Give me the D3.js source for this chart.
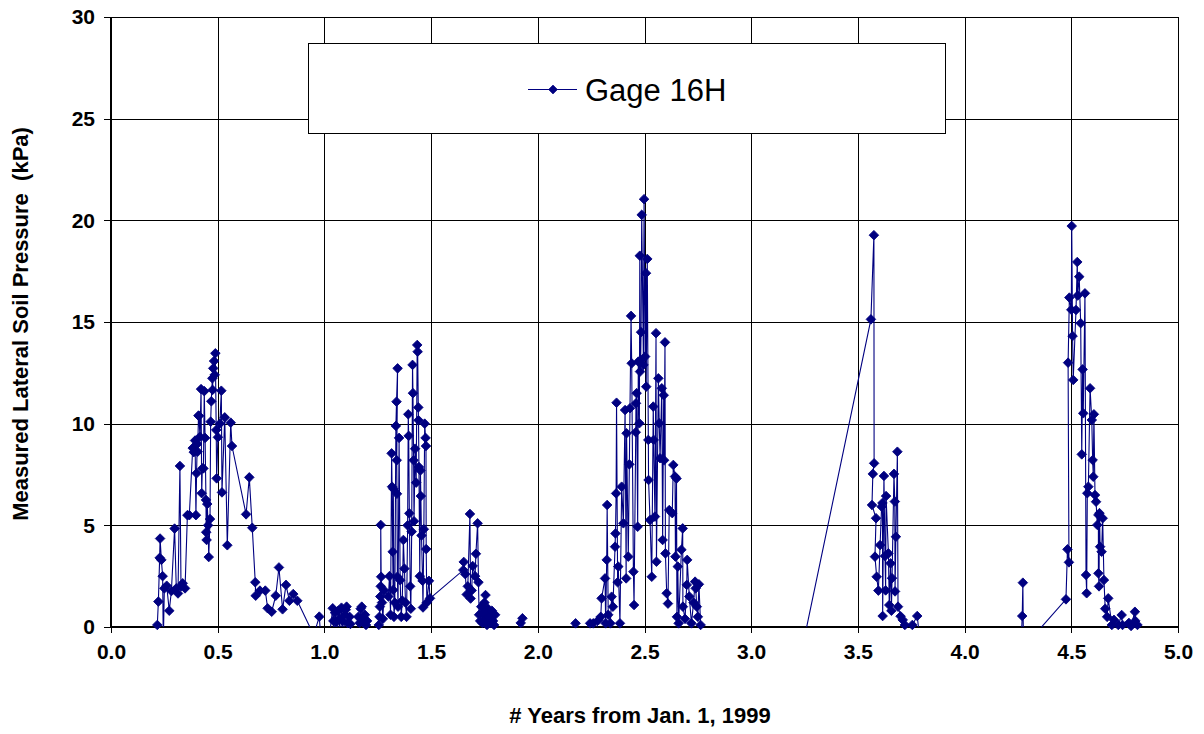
<!DOCTYPE html>
<html>
<head>
<meta charset="utf-8">
<script src="https://cdn.jsdelivr.net/npm/d3@7"></script>
<style>
  html, body { margin: 0; padding: 0; background: #fff; }
  svg { display: block; font-family: Arial, "Liberation Sans", sans-serif; }
</style>
</head>
<body>
<svg id="chart" width="1204" height="734"></svg>
<script>
// ---------- DATA: [years from Jan. 1 1999, measured lateral soil pressure kPa] ----------
const season1999 = [
  [0.217,0.1],[0.222,1.25],[0.228,3.4],[0.23,4.35],[0.236,3.3],[0.242,2.5],[0.245,-0.8],[0.25,1.9],
  [0.261,2.03],[0.273,0.8],[0.283,1.77],[0.298,4.84],[0.306,1.9],[0.314,1.65],[0.323,7.92],[0.328,2.0],
  [0.336,2.15],[0.347,1.9],[0.358,5.5],[0.367,5.5],[0.383,8.8],[0.388,8.6],[0.394,9.17],[0.398,5.5],
  [0.401,7.56],[0.404,9.0],[0.406,8.62],[0.41,10.4],[0.412,10.38],[0.417,9.36],[0.422,11.7],[0.425,6.58],
  [0.428,7.8],[0.433,7.8],[0.437,11.6],[0.441,9.3],[0.445,6.25],[0.446,4.66],[0.448,4.28],[0.451,6.05],
  [0.455,5.0],[0.458,3.44],[0.464,5.31],[0.467,10.1],[0.47,11.1],[0.475,12.23],[0.476,11.66],[0.479,12.72],
  [0.483,13.08],[0.486,12.4],[0.489,13.46],[0.493,9.69],[0.495,7.31],[0.501,9.33],[0.51,10.0],[0.517,11.62],
  [0.52,6.62],[0.533,10.31],[0.545,4.02],[0.561,10.05],[0.567,8.9],[0.633,5.54],[0.648,7.36],[0.662,4.88],
  [0.676,2.2],[0.678,1.54],[0.698,1.79],[0.723,1.79],[0.734,0.92],[0.753,0.75],[0.772,1.54],[0.787,2.93],
  [0.804,0.87],[0.82,2.07],[0.836,1.29],[0.854,1.62],[0.873,1.29],[0.95,-0.4]
];
const season2000 = [
  [0.976,0.51],[0.99,-1.5],[1.02,-0.8],[1.039,0.92],[1.042,0.3],[1.046,-1.2],[1.05,0.7],[1.055,0.25],
  [1.06,-0.9],[1.065,0.8],[1.07,0.4],[1.075,-1.5],[1.08,0.95],[1.085,0.3],[1.09,-0.7],[1.095,0.6],
  [1.1,0.85],[1.104,1.0],[1.108,0.2],[1.112,-1.0],[1.118,0.5],[1.122,0.15],[1.13,-0.8],[1.15,-1.2],
  [1.159,0.5],[1.165,0.2],[1.17,0.9],[1.175,1.0],[1.178,0.4],[1.182,-0.6],[1.19,0.6],[1.195,0.1],
  [1.2,0.3],[1.21,-1.0],[1.24,-0.5],[1.255,0.1],[1.258,0.5],[1.26,1.0],[1.262,1.5],[1.264,2.0],
  [1.264,5.02],[1.266,2.47],[1.27,1.2],[1.274,0.4],[1.28,1.8],[1.3,1.5],[1.305,2.5],[1.31,0.6],
  [1.315,8.54],[1.317,6.9],[1.32,3.7],[1.322,1.82],[1.323,6.8],[1.326,0.5],[1.33,1.2],[1.335,9.89],
  [1.338,11.08],[1.343,12.72],[1.339,8.2],[1.34,6.55],[1.342,2.47],[1.345,1.0],[1.35,9.3],[1.355,2.3],
  [1.36,0.5],[1.365,1.3],[1.37,4.28],[1.375,2.87],[1.38,1.2],[1.385,0.5],[1.39,5.0],[1.393,10.46],
  [1.395,9.4],[1.398,5.59],[1.402,2.0],[1.405,0.9],[1.409,4.69],[1.413,12.89],[1.415,11.5],[1.418,8.2],
  [1.42,5.2],[1.425,8.77],[1.43,7.1],[1.435,13.87],[1.437,13.54],[1.44,10.8],[1.441,10.17],[1.443,7.87],
  [1.447,2.5],[1.45,7.7],[1.452,6.44],[1.455,4.5],[1.46,2.27],[1.462,0.96],[1.466,4.81],[1.47,10.0],
  [1.474,9.3],[1.476,8.9],[1.477,3.83],[1.48,1.2],[1.49,2.27],[1.495,1.41],[1.651,2.8],[1.653,3.2],
  [1.66,2.6],[1.667,1.6],[1.672,2.0],[1.682,5.56],[1.685,1.4],[1.69,1.8],[1.695,3.0],[1.706,2.5],
  [1.71,3.6],[1.718,5.1],[1.722,2.2],[1.725,0.6],[1.73,0.3],[1.735,1.0],[1.74,0.2],[1.745,0.7],
  [1.75,1.2],[1.755,1.57],[1.758,0.4],[1.762,0.1],[1.767,0.9],[1.772,0.5],[1.778,0.2],[1.785,0.8],
  [1.79,0.3],[1.795,0.1],[1.8,0.6],[1.81,-0.5],[1.85,-1.2],[1.9,-0.3],[1.92,0.2],[1.928,0.43],[1.935,-0.5]
];
const season2001 = [
  [2.0,-1.0],[2.1,-0.6],[2.177,0.18],[2.2,-0.5],[2.245,0.18],[2.26,0.18],[2.27,-0.4],[2.284,0.34],
  [2.295,0.5],[2.299,1.41],[2.315,2.39],[2.318,0.18],[2.323,3.3],[2.325,6.0],[2.33,0.6],[2.34,0.18],
  [2.346,1.49],[2.352,1.0],[2.362,3.95],[2.364,4.6],[2.367,6.57],[2.369,11.03],[2.374,2.2],[2.377,2.97],
  [2.385,0.18],[2.393,6.9],[2.401,5.1],[2.409,10.67],[2.414,2.39],[2.416,9.53],[2.424,3.46],[2.429,8.0],
  [2.432,10.76],[2.437,15.3],[2.44,12.97],[2.448,2.72],[2.451,1.08],[2.459,9.58],[2.46,11.0],[2.463,11.5],
  [2.468,4.93],[2.471,13.05],[2.476,10.02],[2.478,18.26],[2.479,12.56],[2.482,13.13],[2.484,14.5],[2.487,20.27],
  [2.495,12.89],[2.498,21.04],[2.503,13.3],[2.507,17.4],[2.508,11.82],[2.513,18.1],[2.518,9.2],[2.519,7.23],
  [2.526,5.26],[2.534,2.47],[2.541,10.84],[2.543,9.2],[2.549,5.43],[2.554,14.45],[2.556,3.21],[2.565,12.23],
  [2.569,10.02],[2.573,8.3],[2.581,11.74],[2.585,4.28],[2.59,11.4],[2.592,8.2],[2.596,14.0],[2.598,3.62],
  [2.604,1.66],[2.61,1.15],[2.616,5.75],[2.63,5.6],[2.635,7.97],[2.643,7.4],[2.645,3.46],[2.65,7.3],
  [2.652,0.5],[2.656,2.97],[2.66,0.18],[2.673,3.8],[2.679,4.85],[2.68,1.0],[2.69,0.4],[2.698,2.07],
  [2.7,3.3],[2.71,1.5],[2.72,0.18],[2.73,1.2],[2.737,2.23],[2.74,1.9],[2.745,1.0],[2.75,0.5],
  [2.755,2.1],[2.763,0.1],[2.8,-1.0],[2.9,-2.0],[3.0,-1.5],[3.1,-2.5],[3.24,-1.0]
];
const season2002 = [
  [3.561,15.13],[3.575,19.27],[3.576,8.05],[3.57,7.53],[3.566,6.0],[3.585,5.35],[3.58,3.46],[3.588,2.47],
  [3.596,1.79],[3.604,4.03],[3.611,5.92],[3.615,6.1],[3.616,0.54],[3.622,7.43],[3.627,3.49],[3.63,1.8],
  [3.632,6.44],[3.643,3.62],[3.647,1.08],[3.653,3.13],[3.657,0.8],[3.66,2.4],[3.669,7.53],[3.673,6.17],
  [3.674,1.75],[3.678,4.44],[3.685,8.62],[3.688,1.0],[3.7,0.53],[3.71,0.35],[3.72,0.1],[3.73,-0.5],
  [3.755,0.1],[3.778,0.54],[3.79,-0.6],[3.9,-1.5],[4.0,-2.0],[4.1,-1.8],[4.2,-1.2],[4.265,-0.8]
];
const season2003 = [
  [4.27,0.54],[4.273,2.18],[4.276,-1.2],[4.31,-0.6],[4.475,1.36],[4.482,3.82],[4.489,3.18],[4.485,13.0],
  [4.491,16.2],[4.5,15.6],[4.502,19.72],[4.506,14.31],[4.509,12.15],[4.522,15.59],[4.528,17.95],[4.53,16.3],
  [4.537,17.23],[4.544,14.94],[4.549,8.49],[4.553,12.67],[4.556,10.51],[4.564,16.41],[4.569,2.56],[4.572,1.66],
  [4.575,6.58],[4.58,6.9],[4.588,11.74],[4.596,10.18],[4.6,8.21],[4.603,7.39],[4.606,10.46],[4.611,6.49],
  [4.616,6.16],[4.622,5.02],[4.627,5.51],[4.627,2.64],[4.63,2.0],[4.632,5.6],[4.635,3.95],[4.642,3.7],
  [4.647,5.35],[4.653,2.31],[4.659,0.9],[4.668,0.5],[4.673,1.41],[4.69,0.1],[4.7,0.35],[4.71,-0.3],
  [4.72,0.1],[4.736,0.59],[4.74,0.1],[4.75,-0.2],[4.77,0.2],[4.78,0.05],[4.798,0.75],[4.8,0.3],[4.81,0.1]
];
const xTickValues = [0, 0.5, 1, 1.5, 2, 2.5, 3, 3.5, 4, 4.5, 5];
const yTickValues = [0, 5, 10, 15, 20, 25, 30];
const seriesName = "Gage 16H";
const xTitle = "# Years from Jan. 1, 1999";
const yTitle = "Measured Lateral Soil Pressure  (kPa)";

// ---------- LAYOUT ----------
const svg = d3.select("#chart");
const plot = { left: 111, right: 1178, top: 17, bottom: 627 };
const navy = "#000080";

const x = d3.scaleLinear().domain([0, 5]).range([plot.left, plot.right]);
const y = d3.scaleLinear().domain([0, 30]).range([plot.bottom, plot.top]);
const px = v => Math.round(v) + 0.5;

const data = [].concat(season1999, season2000, season2001, season2002, season2003)
  .map(d => ({ t: d[0], p: d[1] }));

// gridlines
const grid = svg.append("g").attr("shape-rendering", "crispEdges");
grid.selectAll("line.gy").data(yTickValues.slice(1)).join("line")
  .attr("x1", plot.left).attr("x2", plot.right)
  .attr("y1", d => px(y(d))).attr("y2", d => px(y(d)))
  .attr("stroke", "#000").attr("stroke-width", 1);
grid.selectAll("line.gx").data(xTickValues.slice(1)).join("line")
  .attr("x1", d => px(x(d))).attr("x2", d => px(x(d)))
  .attr("y1", plot.top).attr("y2", plot.bottom)
  .attr("stroke", "#000").attr("stroke-width", 1);

// axes
const xAxis = d3.axisBottom(x).tickValues(xTickValues).tickFormat(d3.format(".1f"))
  .tickSize(6).tickPadding(11);
const yAxis = d3.axisLeft(y).tickValues(yTickValues).tickFormat(d3.format("d"))
  .tickSize(7).tickPadding(9);

const gx = svg.append("g").attr("transform", `translate(0,${plot.bottom})`).call(xAxis);
const gy = svg.append("g").attr("transform", `translate(${plot.left},0)`).call(yAxis);
[gx, gy].forEach(g => {
  g.select(".domain").remove();
  g.selectAll(".tick line").attr("stroke", "#000").attr("shape-rendering", "crispEdges");
  g.selectAll(".tick text").attr("fill", "#000").attr("font-size", 21).attr("font-weight", "bold")
    .attr("font-family", "Arial, 'Liberation Sans', sans-serif");
});

// axis lines
svg.append("line").attr("x1", plot.left).attr("x2", plot.left)
  .attr("y1", plot.top).attr("y2", plot.bottom + 1)
  .attr("stroke", "#000").attr("stroke-width", 2).attr("shape-rendering", "crispEdges");
svg.append("line").attr("x1", plot.left).attr("x2", plot.right + 1)
  .attr("y1", plot.bottom).attr("y2", plot.bottom)
  .attr("stroke", "#000").attr("stroke-width", 2).attr("shape-rendering", "crispEdges");

// clip
svg.append("clipPath").attr("id", "plotclip").append("rect")
  .attr("x", plot.left).attr("y", plot.top)
  .attr("width", plot.right - plot.left + 1).attr("height", plot.bottom - plot.top);

const line = d3.line().x(d => x(d.t)).y(d => y(d.p));
svg.append("path").datum(data)
  .attr("clip-path", "url(#plotclip)")
  .attr("d", line).attr("fill", "none").attr("stroke", navy).attr("stroke-width", 1.1);

const diamond = d3.symbol().type(d3.symbolSquare).size(46);
svg.append("g").selectAll("path").data(data.filter(d => d.p >= 0)).join("path")
  .attr("d", diamond)
  .attr("transform", d => `translate(${x(d.t)},${y(d.p)}) rotate(45)`)
  .attr("fill", navy).attr("stroke", navy).attr("stroke-width", 0.8);

// legend
const lg = svg.append("g");
lg.append("rect").attr("x", 308.5).attr("y", 43.5).attr("width", 637).attr("height", 90)
  .attr("fill", "#fff").attr("stroke", "#000").attr("stroke-width", 1);
lg.append("line").attr("x1", 528).attr("x2", 577).attr("y1", 89.5).attr("y2", 89.5)
  .attr("stroke", navy).attr("stroke-width", 1);
lg.append("path").attr("d", d3.symbol().type(d3.symbolSquare).size(40))
  .attr("transform", "translate(553,89.5) rotate(45)")
  .attr("fill", navy).attr("stroke", navy).attr("stroke-width", 0.6);
lg.append("text").attr("x", 585).attr("y", 100.5).attr("font-size", 31)
  .attr("fill", "#000").text(seriesName);

// titles
svg.append("text").attr("x", 640).attr("y", 723).attr("text-anchor", "middle")
  .attr("font-size", 22).attr("font-weight", "bold").attr("fill", "#000").text(xTitle);
svg.append("text").attr("transform", "translate(28,324) rotate(-90)").attr("text-anchor", "middle")
  .style("white-space", "pre")
  .attr("font-size", 22).attr("font-weight", "bold").attr("fill", "#000").text(yTitle);
</script>
</body>
</html>
